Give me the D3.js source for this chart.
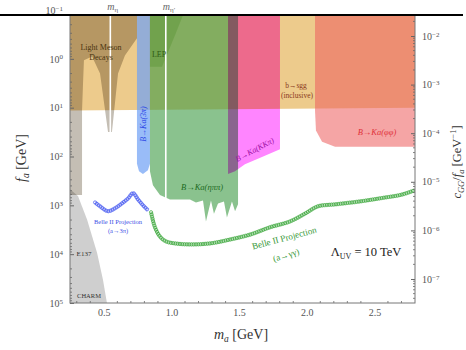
<!DOCTYPE html>
<html>
<head>
<meta charset="utf-8">
<script src="https://cdn.jsdelivr.net/npm/d3@7"></script>
<style>
  html, body { margin: 0; padding: 0; background: #fff; }
  svg { display: block; }
  text { font-family: "Liberation Serif", "DejaVu Serif", serif; }
</style>
</head>
<body>
<svg id="chart" width="466" height="350"></svg>
<script>
// ---------------- data ----------------
// ALP mass range (GeV) and axis ticks
const massDomain = [0.25, 2.8];
const massTicks = [0.5, 1.0, 1.5, 2.0, 2.5];
const faTickExps = [-1, 0, 1, 2, 3, 4, 5];          // f_a [GeV], log10
const couplingTickExps = [-2, -3, -4, -5, -6, -7];  // c/f_a [GeV^-1], log10
const couplingDomainExps = [-1.465, -7.494];

// hadronic resonances marked by vertical lines
const resonances = [
  { name: "η", m: 0.548 },
  { name: "η′", m: 0.958 }
];

// excluded regions: [m_a (GeV), log10 f_a (GeV)]
const inclusiveBSGG = [[0.25, -1], [2.8, -1], [2.8, 1.0], [0.25, 1.06]];
const lightMesonDecays = [
  [0.25, -1], [0.745, -1], [0.745, -0.42], [0.656, -0.07], [0.605, 0.30],
  [0.560, 1.50], [0.531, 1.50], [0.472, 0.30], [0.413, -0.05], [0.353, 0.03],
  [0.345, 0.60], [0.339, 1.06], [0.339, 2.79], [0.25, 2.79]
];
const beamDump = [
  [0.25, 2.67], [0.309, 2.81], [0.376, 3.29], [0.450, 3.97],
  [0.494, 4.53], [0.523, 5.0], [0.25, 5.0]
];
const bToK3pi = [
  [0.745, -1], [0.841, -1], [0.841, 2.15], [0.826, 2.28],
  [0.789, 2.36], [0.760, 2.30], [0.745, 2.15]
];
const bToKEtaPiPi = [
  [0.841, -1], [1.492, -1], [1.492, 2.98], [1.470, 3.12], [1.447, 2.92],
  [1.410, 3.25], [1.388, 2.92], [1.344, 2.96], [1.314, 3.17], [1.292, 2.90],
  [1.255, 3.33], [1.233, 2.90], [1.181, 2.94], [1.137, 2.88], [0.989, 2.88],
  [0.915, 2.79], [0.863, 2.59], [0.841, 2.30]
];
const lepBound = [[0.841, -1], [1.10, -1], [1.033, -0.53], [0.93, 0.16], [0.841, 0.16]];
const bToKKKpi = [
  [1.418, -1], [1.802, -1], [1.802, 1.85], [1.669, 2.01],
  [1.543, 2.16], [1.470, 2.30], [1.418, 2.36]
];
const bToKPhiPhi = [
  [2.061, -1], [2.8, -1], [2.8, 1.80], [2.209, 1.80],
  [2.113, 1.70], [2.068, 1.47], [2.061, 1.06]
];

// Belle II projected reach: [m_a (GeV), log10 f_a (GeV)]
const belle2GammaGamma = [
  [0.849, 3.14], [0.878, 3.45], [0.915, 3.64], [0.96, 3.74], [1.026, 3.78],
  [1.137, 3.80], [1.285, 3.78], [1.433, 3.70], [1.58, 3.60], [1.728, 3.45],
  [1.876, 3.33], [1.987, 3.17], [2.083, 3.02], [2.209, 2.98], [2.393, 2.92],
  [2.578, 2.84], [2.689, 2.79], [2.8, 2.69]
];
const belle2ThreePi = [
  [0.435, 2.94], [0.472, 3.02], [0.531, 3.12], [0.583, 3.06], [0.634, 2.96],
  [0.679, 2.86], [0.716, 2.75], [0.753, 2.88], [0.79, 3.0], [0.826, 3.10]
];

// ---------------- layout ----------------
const svg = d3.select("#chart");
const W = 466, H = 350;
const frame = { l: 70, r: 415, t: 15, b: 303 };

const x = d3.scaleLinear().domain(massDomain).range([frame.l, frame.r]);
const y = d3.scaleLog().domain([1e-1, 1e5]).range([10, 303]);
const yR = d3.scaleLog()
  .domain(couplingDomainExps.map(e => 10 ** e))
  .range([10, 303]);

const area = d3.line().x(d => x(d[0])).y(d => y(10 ** d[1]));
const curve = d3.line().x(d => x(d[0])).y(d => y(10 ** d[1])).curve(d3.curveCatmullRom.alpha(0.5));

svg.append("rect").attr("width", W).attr("height", H).attr("fill", "#fff");

svg.append("clipPath").attr("id", "plotClip")
  .append("rect")
  .attr("x", frame.l).attr("y", frame.t)
  .attr("width", frame.r - frame.l).attr("height", frame.b - frame.t);

const plot = svg.append("g").attr("clip-path", "url(#plotClip)");

function region(data, fill, opts = {}) {
  const p = plot.append("path")
    .attr("d", area(data) + "Z")
    .attr("fill", fill)
    .attr("fill-opacity", opts.opacity ?? 1)
    .attr("stroke", "none");
  if (opts.blend) p.style("mix-blend-mode", opts.blend);
  return p;
}

// excluded regions
region(beamDump, "#cfcfcf");
region(inclusiveBSGG, "#edcb8c");
region(lightMesonDecays, "#c4beb4", { blend: "multiply" });
region(bToK3pi, "#6e9ff5", { opacity: 0.7 });
region(bToKEtaPiPi, "#3c9a42", { opacity: 0.6 });
region(lepBound, "#4a8a20", { opacity: 0.3 });
region(bToKKKpi, "#ff85ff", { blend: "multiply" });
region(bToKPhiPhi, "#ed5e5e", { opacity: 0.56 });

// resonance lines
plot.selectAll("line.res").data(resonances).join("line")
  .attr("class", "res")
  .attr("x1", d => x(d.m)).attr("x2", d => x(d.m))
  .attr("y1", frame.t).attr("y2", frame.b)
  .attr("stroke", "#fff").attr("stroke-width", 1.6);

// projection chains of small rings
function chain(data, color) {
  const g = plot.append("g");
  const p = g.append("path")
    .attr("d", curve(data))
    .attr("fill", "none")
    .attr("stroke", color)
    .attr("stroke-width", 4.2)
    .attr("stroke-opacity", 0.28);
  const node = p.node();
  const L = node.getTotalLength();
  const pts = d3.range(0, L, 2.3).map(l => node.getPointAtLength(l));
  g.selectAll("circle").data(pts).join("circle")
    .attr("cx", d => d.x).attr("cy", d => d.y)
    .attr("r", 1.55)
    .attr("fill", "none")
    .attr("stroke", color)
    .attr("stroke-width", 0.75);
}
chain(belle2GammaGamma, "#3fa83f");
chain(belle2ThreePi, "#4a5cf0");

// ---------------- labels inside the plot ----------------
const lab = svg.append("g").attr("clip-path", "url(#plotClip)");
function label(txt, px, py, opts = {}) {
  const t = lab.append("text")
    .attr("x", px).attr("y", py)
    .attr("text-anchor", "middle")
    .attr("font-size", opts.size || 8)
    .attr("fill", opts.color || "#333")
    .attr("font-style", opts.italic ? "italic" : "normal")
    .text(txt);
  if (opts.rotate) t.attr("transform", `rotate(${opts.rotate},${px},${py})`);
  return t;
}
label("Light Meson", 101, 50, { size: 8, color: "#4a3510" });
label("Decays", 101, 60, { size: 8, color: "#4a3510" });
label("LEP", 159, 57, { size: 8, color: "#2f5a14" });
label("B→Ka(3π)", 146, 124, { size: 8, color: "#2a44e6", italic: true, rotate: -90 });
label("B→Ka(ηππ)", 202, 190, { size: 8.5, color: "#1d6a22", italic: true });
label("B→Ka(KKπ)", 256, 152, { size: 8, color: "#a012a6", italic: true, rotate: -28 });
label("b→sgg", 296, 88, { size: 7.5, color: "#8a3a20" });
label("(inclusive)", 297, 98, { size: 7.5, color: "#8a3a20" });
label("B→Ka(φφ)", 377, 135, { size: 8.5, color: "#e0303a", italic: true });
label("Belle II Projection", 118, 224, { size: 6.5, color: "#4050e6" });
label("(a→3π)", 118, 233, { size: 6.5, color: "#4050e6" });
label("Belle II Projection", 285, 241, { size: 9, color: "#3a9a3a", rotate: -15 });
label("(a→γγ)", 287, 258, { size: 9, color: "#3a9a3a", rotate: -17 });
label("E137", 84, 256, { size: 7, color: "#333" });
label("CHARM", 89, 298, { size: 6.5, color: "#333" });

const lam = lab.append("text").attr("x", 366).attr("y", 256)
  .attr("text-anchor", "middle").attr("font-size", 12.5).attr("fill", "#222");
lam.append("tspan").text("Λ");
lam.append("tspan").attr("font-size", 8).attr("dy", 3).text("UV");
lam.append("tspan").attr("dy", -3).text(" = 10 TeV");

// ---------------- axes ----------------
const tickColor = "#666";
const labelColor = "#555";

function powerLabels(sel) {
  sel.selectAll(".tick text").each(function (d) {
    const e = Math.round(Math.log10(d));
    const t = d3.select(this).text(null)
      .attr("font-family", "Liberation Serif, serif")
      .attr("font-size", 10).attr("fill", labelColor);
    t.append("tspan").text("10");
    t.append("tspan").attr("dy", "-0.45em").attr("font-size", 7)
      .text(e < 0 ? "−" + (-e) : String(e));
  });
}

// left: f_a
const gL = svg.append("g").attr("transform", `translate(${frame.l},0)`)
  .call(d3.axisLeft(y).tickValues(faTickExps.map(e => 10 ** e))
    .tickSizeInner(-4).tickSizeOuter(0).tickPadding(7));
gL.call(powerLabels);

// right: coupling
const gR = svg.append("g").attr("transform", `translate(${frame.r},0)`)
  .call(d3.axisRight(yR).tickValues(couplingTickExps.map(e => 10 ** e))
    .tickSizeInner(-4).tickSizeOuter(0).tickPadding(7));
gR.call(powerLabels);

// bottom: m_a
const gB = svg.append("g").attr("transform", `translate(0,${frame.b})`)
  .call(d3.axisBottom(x).tickValues(massTicks).tickFormat(d3.format(".1f"))
    .tickSizeInner(-4).tickSizeOuter(0).tickPadding(6));
gB.selectAll(".tick text").attr("font-family", "Liberation Serif, serif")
  .attr("font-size", 10).attr("fill", labelColor);

[gL, gR, gB].forEach(g => {
  g.select(".domain").remove();
  g.selectAll(".tick line").attr("stroke", tickColor)
    .attr("display", function () {
      const tr = this.parentNode.getAttribute("transform");
      const m = /translate\(([^,]+),([^)]+)\)/.exec(tr);
      return (m && +m[2] < frame.t) ? "none" : null;
    });
});

// minor ticks
const minor = svg.append("g").attr("stroke", tickColor).attr("stroke-width", 0.8);
const minorLeft = [];
for (let e = -1; e < 5; e++) for (let k = 2; k <= 9; k++) minorLeft.push(k * 10 ** e);
minor.selectAll("line.ml").data(minorLeft.filter(v => y(v) > frame.t)).join("line")
  .attr("x1", frame.l).attr("x2", frame.l + 2)
  .attr("y1", d => y(d)).attr("y2", d => y(d));
const minorRight = [];
for (let e = -8; e < -1; e++) for (let k = 2; k <= 9; k++) minorRight.push(k * 10 ** e);
minor.selectAll("line.mr").data(minorRight.filter(v => yR(v) > frame.t && yR(v) < frame.b)).join("line")
  .attr("x1", frame.r - 2).attr("x2", frame.r)
  .attr("y1", d => yR(d)).attr("y2", d => yR(d));
const minorBottom = d3.range(3, 28).map(i => i / 10).filter(v => !massTicks.includes(v));
minor.selectAll("line.mb").data(minorBottom).join("line")
  .attr("x1", d => x(d)).attr("x2", d => x(d))
  .attr("y1", frame.b).attr("y2", frame.b - 2);

// frame
svg.append("rect")
  .attr("x", frame.l).attr("y", frame.t)
  .attr("width", frame.r - frame.l).attr("height", frame.b - frame.t)
  .attr("fill", "none").attr("stroke", "#777").attr("stroke-width", 1);

// resonance names above the frame
svg.selectAll("text.resname").data(resonances).join("text")
  .attr("class", "resname")
  .attr("x", d => x(d.m) - 3).attr("y", 10)
  .attr("font-size", 10).attr("fill", "#666")
  .each(function (d) {
    const t = d3.select(this);
    t.append("tspan").attr("font-style", "italic").text("m");
    t.append("tspan").attr("font-size", 7).attr("dy", 2).text(d.name);
  });

// top rule
svg.append("line").attr("x1", 0).attr("x2", 463).attr("y1", 15).attr("y2", 15)
  .attr("stroke", "#000").attr("stroke-width", 2);

// axis titles
const xt = svg.append("text").attr("x", 241).attr("y", 339)
  .attr("text-anchor", "middle").attr("font-size", 14).attr("fill", "#333");
xt.append("tspan").attr("font-style", "italic").text("m");
xt.append("tspan").attr("font-size", 9.5).attr("dy", 3).attr("font-style", "italic").text("a");
xt.append("tspan").attr("dy", -3).text(" [GeV]");

const yt = svg.append("text")
  .attr("transform", "translate(26,158) rotate(-90)")
  .attr("text-anchor", "middle").attr("font-size", 14).attr("fill", "#333");
yt.append("tspan").attr("font-style", "italic").text("f");
yt.append("tspan").attr("font-size", 9.5).attr("dy", 3).attr("font-style", "italic").text("a");
yt.append("tspan").attr("dy", -3).text(" [GeV]");

const rt = svg.append("text")
  .attr("transform", "translate(461,162) rotate(-90)")
  .attr("text-anchor", "middle").attr("font-size", 12.5).attr("fill", "#333");
rt.append("tspan").attr("font-style", "italic").text("c");
rt.append("tspan").attr("font-size", 8.5).attr("dy", 3).attr("font-style", "italic").text("GG");
rt.append("tspan").attr("dy", -3).text("/");
rt.append("tspan").attr("font-style", "italic").text("f");
rt.append("tspan").attr("font-size", 8.5).attr("dy", 3).attr("font-style", "italic").text("a");
rt.append("tspan").attr("dy", -3).text(" [GeV");
rt.append("tspan").attr("font-size", 8.5).attr("dy", -5).text("−1");
rt.append("tspan").attr("dy", 5).text("]");
</script>
</body>
</html>
